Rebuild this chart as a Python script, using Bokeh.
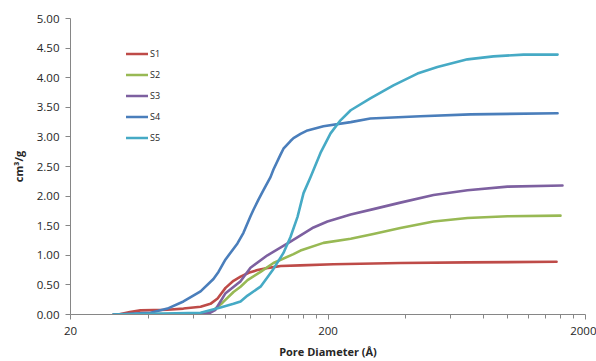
from bokeh.plotting import figure
from bokeh.models import (Range1d, FixedTicker, NumeralTickFormatter, Legend, LegendItem)
from bokeh.embed import file_html
from bokeh.resources import INLINE

# ---- data ----
series_names = ["S1", "S2", "S3", "S4", "S5"]
colors = ["#BE4B48", "#98B954", "#7D60A0", "#4A7EBB", "#46AAC5"]

s1_x = [30.7, 34.0, 37.4, 47.6, 54.9, 64.0, 69.9, 74.5, 80.0, 85.9, 91.5, 99.0, 106.5, 115.0, 123.0, 131.0, 156.0, 210.0, 382.0, 696.0, 1544.0]
s1_y = [0.00, 0.04, 0.07, 0.08, 0.10, 0.13, 0.18, 0.27, 0.45, 0.57, 0.64, 0.71, 0.75, 0.78, 0.80, 0.82, 0.83, 0.85, 0.87, 0.88, 0.89]

s2_x = [29.4, 55.0, 64.0, 71.8, 77.9, 85.9, 91.5, 97.4, 109.4, 122.8, 146.9, 156.4, 192.0, 245.0, 300.0, 382.0, 514.0, 696.0, 996.0, 1599.0]
s2_y = [0.00, 0.01, 0.02, 0.07, 0.20, 0.38, 0.47, 0.58, 0.72, 0.87, 1.02, 1.08, 1.21, 1.28, 1.36, 1.46, 1.57, 1.63, 1.66, 1.67]

s3_x = [29.4, 64.0, 69.9, 73.1, 80.0, 89.0, 91.5, 100.0, 116.4, 143.0, 175.7, 199.0, 245.0, 300.0, 382.0, 514.0, 696.0, 996.0, 1628.0]
s3_y = [0.00, 0.00, 0.03, 0.08, 0.36, 0.52, 0.56, 0.79, 1.00, 1.23, 1.47, 1.57, 1.69, 1.78, 1.89, 2.02, 2.10, 2.16, 2.18]

s4_x = [29.4, 40.9, 47.6, 54.9, 64.0, 71.8, 75.1, 80.0, 89.0, 93.9, 100.0, 102.7, 107.4, 112.3, 119.6, 122.8, 130.8, 134.3, 143.0, 146.9, 156.4, 166.5, 192.0, 245.0, 292.0, 457.0, 715.0, 1558.0]
s4_y = [0.00, 0.03, 0.10, 0.22, 0.39, 0.60, 0.72, 0.93, 1.20, 1.38, 1.66, 1.77, 1.94, 2.10, 2.32, 2.45, 2.70, 2.80, 2.93, 2.98, 3.05, 3.11, 3.18, 3.25, 3.31, 3.35, 3.38, 3.40]

s5_x = [29.4, 64.0, 76.5, 85.9, 91.5, 97.4, 109.4, 116.4, 122.8, 134.3, 143.0, 152.3, 160.7, 171.0, 187.0, 204.6, 223.6, 245.0, 292.0, 359.0, 445.0, 532.0, 696.0, 878.0, 1149.0, 1558.0]
s5_y = [0.00, 0.03, 0.12, 0.18, 0.22, 0.32, 0.47, 0.63, 0.77, 1.04, 1.31, 1.65, 2.05, 2.32, 2.73, 3.06, 3.28, 3.45, 3.65, 3.87, 4.07, 4.18, 4.31, 4.36, 4.39, 4.39]

x_major_ticks = [20, 200, 2000]
x_minor_ticks = [40, 60, 80, 100, 120, 140, 160, 180, 400, 600, 800, 1000, 1200, 1400, 1600, 1800]
y_ticks = [0, 0.5, 1.0, 1.5, 2.0, 2.5, 3.0, 3.5, 4.0, 4.5, 5.0]

x_title = "Pore Diameter (Å)"
y_title = "cm³/g"

FONT = "Open Sans"
TEXT = "#262626"
AXIS = "#868686"

p = figure(width=596, height=361, x_axis_type="log",
           x_range=Range1d(20, 2000), y_range=Range1d(0, 5),
           output_backend="svg", toolbar_location=None,
           min_border_left=70, min_border_right=11,
           min_border_top=18, min_border_bottom=46)

p.outline_line_color = None
p.xgrid.visible = False
p.ygrid.visible = False
p.background_fill_color = "white"
p.border_fill_color = "white"

xs = [s1_x, s2_x, s3_x, s4_x, s5_x]
ys = [s1_y, s2_y, s3_y, s4_y, s5_y]
items = []
for name, c, x, y in zip(series_names, colors, xs, ys):
    r = p.line(x, y, line_color=c, line_width=2.6, line_join="round", line_cap="round")
    items.append(LegendItem(label=name, renderers=[r]))

# axes
xa = p.xaxis[0]
xa.ticker = FixedTicker(ticks=x_major_ticks, minor_ticks=x_minor_ticks)
xa.formatter = NumeralTickFormatter(format="0")
ya = p.yaxis[0]
ya.ticker = FixedTicker(ticks=y_ticks, minor_ticks=[])
ya.formatter = NumeralTickFormatter(format="0.00")

for ax in (xa, ya):
    ax.axis_line_color = AXIS
    ax.major_tick_line_color = AXIS
    ax.minor_tick_line_color = AXIS
    ax.major_tick_in = 0
    ax.major_tick_out = 5
    ax.minor_tick_in = 0
    ax.minor_tick_out = 4
    ax.major_label_text_font = FONT
    ax.major_label_text_font_size = "11.5px"
    ax.major_label_text_color = TEXT
    ax.axis_label_text_font = FONT
    ax.axis_label_text_font_size = "11px"
    ax.axis_label_text_font_style = "bold"
    ax.axis_label_text_color = TEXT

xa.axis_label = x_title
xa.major_label_standoff = 7
xa.axis_label_standoff = 6
ya.axis_label = y_title
ya.major_label_standoff = 6
ya.axis_label_standoff = 8

legend = Legend(items=items, location=(56, 166), orientation="vertical",
                padding=0, margin=0, spacing=0,
                glyph_width=22, glyph_height=21, label_height=21,
                label_standoff=2, label_text_font=FONT,
                label_text_font_size="9px", label_text_color=TEXT,
                border_line_color=None, background_fill_alpha=0)
p.add_layout(legend)

open("out.html", "w").write(file_html(p, INLINE))
